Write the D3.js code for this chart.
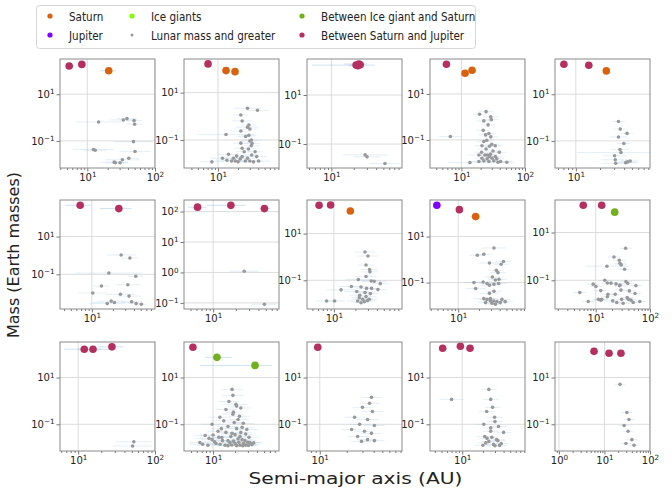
<!DOCTYPE html>
<html>
<head>
<meta charset="utf-8">
<script src="https://cdn.jsdelivr.net/npm/d3@7"></script>
<style>
  body { margin: 0; background: #fff; }
  text { font-family: "DejaVu Sans", sans-serif; }
</style>
</head>
<body>
<svg id="chart" width="672" height="492"></svg>
<script>
// ---- data ----------------------------------------------------------
// giants: [a (AU), mass (M_earth), class, aLow, aHigh]
// lunar-and-greater bodies: [a, mass, error factor on a]
const classNames = {
  S: 'Saturn', J: 'Jupiter', I: 'Ice giants', L: 'Lunar mass and greater',
  IS: 'Between Ice giant and Saturn', SJ: 'Between Saturn and Jupiter'
};

const xDomains = [
  [3.95, 100], [3.1, 82], [4.7, 89], [3.2, 100], [5.5, 84],
  [3.5, 80], [4.1, 75], [4.2, 90], [3.9, 93], [1.78, 100],
  [5.8, 100], [4, 80], [7.2, 83], [3.4, 82], [0.82, 100]
];
const yDomains = [
  [0.0069, 324], [0.0066, 263], [0.0105, 295], [0.006, 331], [0.0069, 324],
  [0.00145, 870], [0.063, 240], [0.0059, 275], [0.0071, 389], [0.0063, 229],
  [0.0072, 331], [0.0072, 331], [0.0072, 331], [0.0072, 331], [0.0072, 331]
];
const xTickExps = [
  [1, 2], [1], [1], [1, 2], [1],
  [1], [1], [1], [1], [1, 2],
  [1, 2], [1], [1], [1], [0, 1, 2]
];
const yTickExps = [
  [-1, 1], [-1, 1], [-1, 1], [-1, 1], [-1, 1],
  [-1, 1], [-1, 0, 1, 2], [-1, 1], [-1, 1], [-1, 1],
  [-1, 1], [-1, 1], [-1, 1], [-1, 1], [-1, 1]
];

const giants1 = [[5.4, 163, 'SJ', 4.6, 6.3], [8.3, 190, 'SJ', 7.2, 9.5], [20.7, 102, 'S', 15.4, 26.5]];
const lunar1 = [[14.7, 0.65, 2.2], [34, 0.79, 1.6], [38.5, 0.9, 1.4], [49, 0.74, 1.3], [50, 0.52, 1.3],
  [48, 0.093, 1.9], [12.3, 0.043, 2.0], [13.1, 0.040, 1.5], [50.7, 0.035, 1.7], [41, 0.018, 1.4],
  [33, 0.0155, 1.8], [25, 0.0123, 1.6], [26, 0.0115, 1.4], [30.5, 0.0115, 1.3]];

const giants2 = [[7.1, 163, 'SJ', 6.6, 7.6], [13.2, 85, 'S', 12.3, 14.2], [18, 77, 'S', 16.8, 19.3]];
const lunar2 = [[27.7, 2.2, 1.6], [39, 1.8, 1.5], [22, 1.14, 1.3], [23, 0.64, 1.4], [29, 0.43, 1.3],
  [27.7, 0.35, 1.5], [30, 0.29, 1.3], [22, 0.24, 1.4], [13.2, 0.17, 2.6], [26, 0.14, 1.3],
  [31.6, 0.1, 1.4], [32.4, 0.072, 1.3], [31.5, 0.057, 1.3], [23, 0.045, 1.3], [28.6, 0.042, 1.3],
  [14.4, 0.025, 1.5], [19, 0.021, 1.4], [11.7, 0.017, 1.5], [8.1, 0.012, 1.5], [17, 0.017, 1.4],
  [23, 0.02, 1.3], [25.7, 0.013, 1.3], [32, 0.0235, 1.3], [38, 0.02, 1.4], [30, 0.013, 1.3],
  [40.6, 0.013, 1.5], [16, 0.013, 1.4], [20, 0.012, 1.3], [13.6, 0.014, 1.5], [27.7, 0.017, 1.4],
  [36, 0.032, 1.3], [24.7, 0.032, 1.3], [34, 0.012, 1.4], [21.5, 0.016, 1.3], [18.2, 0.013, 1.3],
  [30, 0.091, 1.3], [29, 0.16, 1.3], [22, 0.074, 1.3]];

const giants3 = [[21.5, 166, 'SJ', 5.5, 38], [23.4, 185, 'SJ', 15, 30], [24.4, 173, 'SJ', 18, 28], [22.7, 158, 'SJ', 17, 27]];
const lunar3 = [[28.4, 0.036, 2.0], [30.2, 0.030, 1.5], [52.5, 0.016, 1.6]];

const giants4 = [[5.8, 195, 'SJ', 5.5, 6.1], [11.4, 79, 'S', 10.8, 12], [14.7, 107, 'S', 14, 15.4]];
const lunar4 = [[24.4, 1.7, 1.3], [19.3, 1.31, 1.3], [28.9, 1.0, 1.3], [29.5, 0.76, 1.3], [22.5, 0.67, 1.3],
  [26.3, 0.45, 1.3], [22, 0.26, 1.3], [27, 0.19, 1.3], [24, 0.165, 1.3], [6.7, 0.14, 1.5],
  [29, 0.135, 1.3], [25, 0.097, 1.3], [22.5, 0.085, 1.3], [30, 0.065, 1.3], [21, 0.056, 1.3],
  [27.6, 0.053, 1.3], [34, 0.056, 1.3], [24.4, 0.04, 1.3], [31.4, 0.033, 1.3], [18.8, 0.022, 1.5],
  [23.4, 0.022, 1.3], [28.6, 0.024, 1.3], [39.4, 0.029, 1.3], [21, 0.016, 1.3], [25.4, 0.015, 1.3],
  [30.3, 0.016, 1.3], [36, 0.015, 1.3], [13.6, 0.0103, 2.2], [27, 0.0115, 1.5], [41.4, 0.0115, 1.5],
  [51.7, 0.0107, 1.3], [22.5, 0.0123, 1.3], [32.3, 0.0123, 1.3], [25.7, 0.022, 1.3], [20.7, 0.029, 1.3],
  [27.6, 0.019, 1.3], [34.2, 0.019, 1.3], [18.8, 0.0115, 1.3], [37.6, 0.0107, 1.4]];

const giants5 = [[7.1, 193, 'SJ', 6.7, 7.5], [14.5, 174, 'SJ', 13.8, 15.2], [24, 100, 'S', 22.8, 25.2]];
const lunar5 = [[34, 0.68, 1.2], [35.8, 0.32, 1.2], [43.5, 0.21, 1.2], [34, 0.148, 1.3], [39.6, 0.077, 1.2],
  [35.5, 0.043, 1.3], [36.5, 0.032, 3.5], [30.4, 0.023, 1.4], [31, 0.0155, 1.5], [31.4, 0.011, 1.5],
  [41.8, 0.0117, 1.4], [44, 0.0126, 1.3], [47.6, 0.0138, 1.3]];

const giants6 = [[6.8, 457, 'SJ', 4.1, 9.8], [24.3, 305, 'SJ', 13, 37]];
const lunar6 = [[26.2, 1.06, 1.6], [35, 0.73, 1.3], [17.5, 0.117, 3.0], [42.5, 0.079, 1.3], [32.7, 0.028, 1.5],
  [13.7, 0.024, 1.3], [10.3, 0.0102, 1.6], [25.6, 0.0087, 1.6], [34, 0.007, 1.5], [18.9, 0.0038, 1.6],
  [21, 0.0032, 2.0], [16.6, 0.0028, 1.8], [37, 0.0035, 1.4], [43, 0.0028, 1.3], [51, 0.0026, 1.2]];

const giants7 = [[6.2, 140, 'SJ', 4.6, 8.2], [17.2, 160, 'SJ', 8.3, 26.6], [48, 125, 'SJ', 41, 57]];
const lunar7 = [[25.9, 1.1, 1.55], [48, 0.09, 1.45]];

const giants8 = [[6.2, 163, 'SJ', 5.9, 6.5], [9.0, 168, 'SJ', 8.6, 9.4], [17, 93, 'S', 16.2, 17.8]];
const lunar8 = [[27.3, 1.62, 1.4], [30, 1.1, 1.4], [28.2, 0.45, 1.3], [31.6, 0.29, 1.3], [32, 0.23, 1.3],
  [28.2, 0.145, 1.4], [22, 0.107, 1.5], [33.4, 0.094, 1.4], [36.7, 0.091, 1.5], [44.6, 0.072, 1.3],
  [17.6, 0.054, 1.5], [24, 0.052, 1.5], [28.7, 0.045, 1.4], [33.7, 0.045, 1.3], [41.4, 0.04, 1.3],
  [12.6, 0.039, 1.6], [20.9, 0.033, 1.5], [27.3, 0.03, 1.4], [32.4, 0.027, 1.3], [23, 0.023, 1.4],
  [28.2, 0.02, 1.4], [7.9, 0.013, 1.4], [10.2, 0.013, 1.4], [25.3, 0.0155, 1.4], [21.5, 0.013, 1.4],
  [29.6, 0.0138, 1.3], [24, 0.011, 1.3], [26.7, 0.012, 1.3], [31.3, 0.0155, 1.3], [22.7, 0.018, 1.3]];

const giants9 = [[4.9, 230, 'J', 4.7, 5.1], [10.4, 148, 'SJ', 9.9, 10.9], [17.9, 74, 'S', 15.2, 21]];
const lunar9 = [[33, 3.2, 1.5], [18.9, 1.54, 1.3], [23.5, 1.7, 1.3], [28.4, 0.71, 1.4], [42, 0.63, 1.3],
  [45.4, 0.82, 1.3], [35.7, 0.34, 1.3], [37.7, 0.27, 1.3], [31.3, 0.175, 1.3], [39, 0.139, 1.3],
  [34.6, 0.13, 1.3], [16.9, 0.1, 1.4], [23, 0.106, 1.4], [26.2, 0.091, 1.3], [28.4, 0.076, 1.3],
  [33, 0.085, 1.3], [38.5, 0.091, 1.3], [17.9, 0.055, 1.4], [28.4, 0.034, 1.4], [33, 0.042, 1.3],
  [23.5, 0.02, 1.4], [26.2, 0.0186, 1.3], [29.3, 0.02, 1.3], [32.7, 0.0158, 1.3], [36.4, 0.0148, 1.3],
  [40.7, 0.0135, 1.3], [48, 0.0148, 1.3], [24.9, 0.0135, 1.3], [30.9, 0.0126, 1.3], [34.6, 0.0115, 1.3],
  [29.3, 0.0158, 1.3], [43, 0.0186, 1.3]];

const giants10 = [[5.9, 139, 'SJ', 5.6, 6.2], [12.9, 139, 'SJ', 12.3, 13.5], [22.4, 71, 'IS', 21.3, 23.5]];
const lunar10 = [[35.6, 2.2, 1.3], [21.7, 0.95, 1.3], [27.2, 0.69, 1.3], [28, 0.52, 1.3], [29.5, 0.44, 1.3],
  [16.1, 0.39, 2.5], [34, 0.29, 1.3], [9, 0.069, 1.3], [10.1, 0.055, 1.3], [14.7, 0.1, 1.3],
  [16.4, 0.077, 1.3], [19.1, 0.076, 1.3], [23.7, 0.071, 1.3], [28, 0.063, 1.3], [36, 0.089, 1.3],
  [39, 0.074, 1.3], [55, 0.06, 1.3], [27.6, 0.059, 1.3], [12.4, 0.037, 1.3], [29.2, 0.039, 1.3],
  [41.6, 0.036, 1.3], [5.1, 0.031, 1.3], [16.8, 0.026, 1.3], [22.9, 0.026, 1.3], [53, 0.028, 1.3],
  [11.2, 0.016, 1.3], [12.4, 0.0148, 1.3], [12.9, 0.016, 1.3], [16.4, 0.0204, 1.3], [20.6, 0.0138, 1.3],
  [30, 0.016, 1.3], [38, 0.019, 1.3], [44.7, 0.0148, 1.3], [49, 0.0117, 1.3], [65, 0.0129, 1.3],
  [7.3, 0.0129, 1.3], [24.4, 0.0117, 1.3], [32, 0.011, 1.3], [40, 0.016, 1.3]];

const giants11 = [[12, 163, 'SJ', 6.6, 20], [15.6, 163, 'SJ', 10, 30], [27.5, 205, 'SJ', 18, 38.6]];
const lunar11 = [[53, 0.018, 1.7], [51, 0.0118, 1.8]];

const giants12 = [[5.3, 197, 'SJ', 5.0, 5.6], [11.3, 73, 'IS', 7.8, 18], [37.6, 33, 'IS', 6.6, 64]];
const lunar12 = [[18.2, 3.1, 1.4], [18.7, 1.73, 1.4], [16.5, 0.95, 1.4], [20.6, 0.71, 1.4], [15, 0.43, 1.4],
  [18.7, 0.27, 1.4], [12.4, 0.2, 1.4], [22, 0.16, 1.4], [9.7, 0.1, 1.4], [16, 0.081, 1.4],
  [25, 0.074, 1.4], [11.7, 0.05, 1.4], [18.2, 0.041, 1.4], [7.8, 0.033, 1.4], [13.2, 0.027, 1.4],
  [23.4, 0.03, 1.4], [9.7, 0.022, 1.4], [16, 0.02, 1.4], [27.4, 0.02, 1.4], [6.6, 0.0166, 1.4],
  [11, 0.015, 1.4], [20, 0.015, 1.4], [32, 0.0166, 1.4], [8.5, 0.0126, 1.4], [14.6, 0.0126, 1.4],
  [23.4, 0.0126, 1.4], [21, 0.6, 1.3], [24, 0.5, 1.4], [19, 0.33, 1.3], [23, 0.22, 1.4],
  [14, 0.14, 1.5], [19.5, 0.12, 1.3], [26, 0.11, 1.4], [13, 0.065, 1.4], [21, 0.065, 1.3],
  [29, 0.06, 1.4], [15, 0.045, 1.3], [24, 0.045, 1.4], [10, 0.035, 1.5], [20, 0.036, 1.3],
  [28, 0.038, 1.4], [12, 0.028, 1.4], [17.5, 0.03, 1.3], [31, 0.028, 1.4], [8.8, 0.025, 1.5],
  [22, 0.024, 1.3], [25, 0.022, 1.4], [13.5, 0.02, 1.4], [19, 0.019, 1.3], [30, 0.017, 1.4],
  [36, 0.016, 1.3], [10.5, 0.018, 1.4], [17, 0.0165, 1.3], [22.5, 0.017, 1.4], [26, 0.015, 1.3],
  [7.2, 0.014, 1.5], [12.5, 0.014, 1.4], [18, 0.013, 1.3], [28, 0.0128, 1.4], [34, 0.0135, 1.3],
  [16, 0.0122, 1.4], [21, 0.0122, 1.3], [25.5, 0.012, 1.4], [30.5, 0.0125, 1.3]];

const giants13 = [[9.5, 197, 'SJ', 9.0, 10]];
const lunar13 = [[37.8, 1.42, 1.3], [36, 0.79, 1.3], [30, 0.53, 1.3], [38.8, 0.35, 1.3], [24.5, 0.2, 1.3],
  [34.2, 0.16, 1.3], [27.9, 0.1, 1.3], [40.8, 0.089, 1.3], [22.7, 0.06, 1.3], [31.6, 0.05, 1.3],
  [37.8, 0.041, 1.3], [26.5, 0.03, 1.3], [34.2, 0.022, 1.3], [29.3, 0.0185, 1.3], [40.8, 0.02, 1.3]];

const giants14 = [[5.2, 178, 'SJ', 4.9, 5.5], [9.4, 218, 'SJ', 8.9, 9.9], [13, 178, 'SJ', 12.4, 13.6]];
const lunar14 = [[7, 1.16, 1.5], [24.4, 3.1, 1.3], [26, 1.16, 1.3], [27.7, 0.53, 1.3], [22.7, 0.35, 1.3],
  [29.6, 0.2, 1.3], [20.6, 0.1, 1.3], [33.8, 0.081, 1.3], [26, 0.05, 1.3], [40, 0.045, 1.3],
  [21.3, 0.03, 1.3], [31.6, 0.022, 1.3], [24.4, 0.0185, 1.3], [37, 0.015, 1.3], [28.6, 0.0138, 1.3],
  [20, 0.0126, 1.3], [23, 0.025, 1.3], [27, 0.028, 1.3], [33, 0.02, 1.3], [22, 0.016, 1.3],
  [30, 0.012, 1.3], [35, 0.0125, 1.3], [26, 0.07, 1.3], [30, 0.13, 1.3]];

const giants15 = [[5.9, 132, 'SJ', 5.6, 6.2], [12.6, 110, 'SJ', 12, 13.2], [23, 110, 'SJ', 22, 24]];
const lunar15 = [[22, 5.1, 1.3], [31, 0.32, 1.3], [34.5, 0.16, 1.3], [27, 0.089, 1.3], [33, 0.05, 1.3],
  [40, 0.022, 1.3], [29.6, 0.015, 1.3], [44.6, 0.0126, 1.3]];

const giantSets = [giants1, giants2, giants3, giants4, giants5, giants6, giants7, giants8,
  giants9, giants10, giants11, giants12, giants13, giants14, giants15];
const lunarSets = [lunar1, lunar2, lunar3, lunar4, lunar5, lunar6, lunar7, lunar8,
  lunar9, lunar10, lunar11, lunar12, lunar13, lunar14, lunar15];

// ---- styling -------------------------------------------------------
const colors = {
  S: '#d9620f', J: '#7f00ff', I: '#80ff00', L: '#999999',
  IS: '#72b01d', SJ: '#b5305f'
};
const errColor = '#9cc3e2';

const cols = [60, 184, 307, 430, 555];
const rows = [59, 200, 342];
const pw = 95, ph = 109;

const svg = d3.select('#chart');
const defs = svg.append('defs');

function supFormat(sel) {
  sel.each(function(d) {
    const t = d3.select(this);
    const e = Math.round(Math.log10(d));
    t.text(null);
    t.append('tspan').text('10');
    t.append('tspan').attr('dy', '-0.5em').attr('font-size', '0.72em')
      .text(e < 0 ? '\u2212' + (-e) : String(e));
  });
}

giantSets.forEach((giants, i) => {
  const r = Math.floor(i / 5), c = i % 5;
  const left = cols[c], top = rows[r];
  const x = d3.scaleLog().domain(xDomains[i]).range([left, left + pw]);
  const y = d3.scaleLog().domain(yDomains[i]).range([top + ph, top]);
  const xMajor = xTickExps[i].map(e => Math.pow(10, e));
  const yMajor = yTickExps[i].map(e => Math.pow(10, e));

  defs.append('clipPath').attr('id', 'clip' + i)
    .append('rect').attr('x', left).attr('y', top).attr('width', pw).attr('height', ph);

  const g = svg.append('g');
  const plot = g.append('g').attr('clip-path', `url(#clip${i})`);

  // grid
  plot.selectAll('.gx').data(xMajor).join('line')
    .attr('x1', d => x(d)).attr('x2', d => x(d))
    .attr('y1', top).attr('y2', top + ph)
    .attr('stroke', '#dcdcdc').attr('stroke-width', 1);
  plot.selectAll('.gy').data(yMajor).join('line')
    .attr('y1', d => y(d)).attr('y2', d => y(d))
    .attr('x1', left).attr('x2', left + pw)
    .attr('stroke', '#dcdcdc').attr('stroke-width', 1);

  const lunar = lunarSets[i];
  // error bars
  plot.selectAll('.el').data(lunar).join('line')
    .attr('x1', d => x(d[0] / d[2])).attr('x2', d => x(d[0] * d[2]))
    .attr('y1', d => y(d[1])).attr('y2', d => y(d[1]))
    .attr('stroke', errColor).attr('stroke-opacity', 0.35).attr('stroke-width', 0.8);
  plot.selectAll('.eg').data(giants).join('line')
    .attr('x1', d => x(d[3])).attr('x2', d => x(d[4]))
    .attr('y1', d => y(d[1])).attr('y2', d => y(d[1]))
    .attr('stroke', errColor).attr('stroke-opacity', 0.55).attr('stroke-width', 0.9);

  plot.selectAll('.pl').data(lunar).join('circle')
    .attr('cx', d => x(d[0])).attr('cy', d => y(d[1]))
    .attr('r', 1.8).attr('fill', colors.L);
  plot.selectAll('.pg').data(giants).join('circle')
    .attr('cx', d => x(d[0])).attr('cy', d => y(d[1]))
    .attr('r', 3.8).attr('fill', d => colors[d[2]]);

  // axes
  const xMinor = [];
  for (let e = -1; e <= 2; e++) for (let k = 2; k <= 9; k++) {
    const v = k * Math.pow(10, e);
    if (v > xDomains[i][0] && v < xDomains[i][1]) xMinor.push(v);
  }
  const xAxisMinor = d3.axisBottom(x).tickValues(xMinor).tickSize(2).tickFormat('');
  g.append('g').attr('transform', `translate(0,${top + ph})`).call(xAxisMinor)
    .call(a => a.select('.domain').remove())
    .call(a => a.selectAll('line').attr('stroke', '#777'));

  const xAxis = d3.axisBottom(x).tickValues(xMajor).tickSize(3.5).tickPadding(2);
  g.append('g').attr('transform', `translate(0,${top + ph})`).call(xAxis)
    .call(a => a.select('.domain').remove())
    .call(a => a.selectAll('line').attr('stroke', '#777'))
    .call(a => a.selectAll('text').attr('font-size', 10).attr('fill', '#222')
      .attr('font-family', '"DejaVu Sans", sans-serif').call(supFormat));

  const yAxis = d3.axisLeft(y).tickValues(yMajor).tickSize(3.5).tickPadding(2);
  g.append('g').attr('transform', `translate(${left},0)`).call(yAxis)
    .call(a => a.select('.domain').remove())
    .call(a => a.selectAll('line').attr('stroke', '#777'))
    .call(a => a.selectAll('text').attr('font-size', 10).attr('fill', '#222')
      .attr('font-family', '"DejaVu Sans", sans-serif').call(supFormat));

  g.append('rect').attr('x', left).attr('y', top).attr('width', pw).attr('height', ph)
    .attr('fill', 'none').attr('stroke', '#8a8a8a').attr('stroke-width', 1);
});

// axis titles
svg.append('text').attr('x', 355.5).attr('y', 484).attr('text-anchor', 'middle')
  .attr('font-size', 16).attr('fill', '#222')
  .attr('textLength', 214).attr('lengthAdjust', 'spacingAndGlyphs')
  .text('Semi-major axis (AU)');
svg.append('text').attr('transform', 'translate(19,255) rotate(-90)').attr('text-anchor', 'middle')
  .attr('font-size', 16).attr('fill', '#222').text('Mass (Earth masses)');

// legend
const legendOrder = [['S', 'J'], ['I', 'L'], ['IS', 'SJ']];
const legendX = [50, 132, 302];
const legendY = [16, 35];
const legend = svg.append('g');
legend.append('rect').attr('x', 36.5).attr('y', 5.5).attr('width', 439).attr('height', 43)
  .attr('rx', 3).attr('fill', '#fff').attr('stroke', '#d6d6d6');
legendOrder.forEach((col, ci) => {
  col.forEach((key, ri) => {
    legend.append('circle').attr('cx', legendX[ci]).attr('cy', legendY[ri])
      .attr('r', key === 'L' ? 1.5 : 2.6).attr('fill', colors[key]);
    legend.append('text')
      .attr('transform', `translate(${legendX[ci] + 19},${legendY[ri] + 4.5}) scale(0.8,1)`)
      .attr('font-size', 13).attr('fill', '#222').text(classNames[key]);
  });
});
</script>
</body>
</html>
